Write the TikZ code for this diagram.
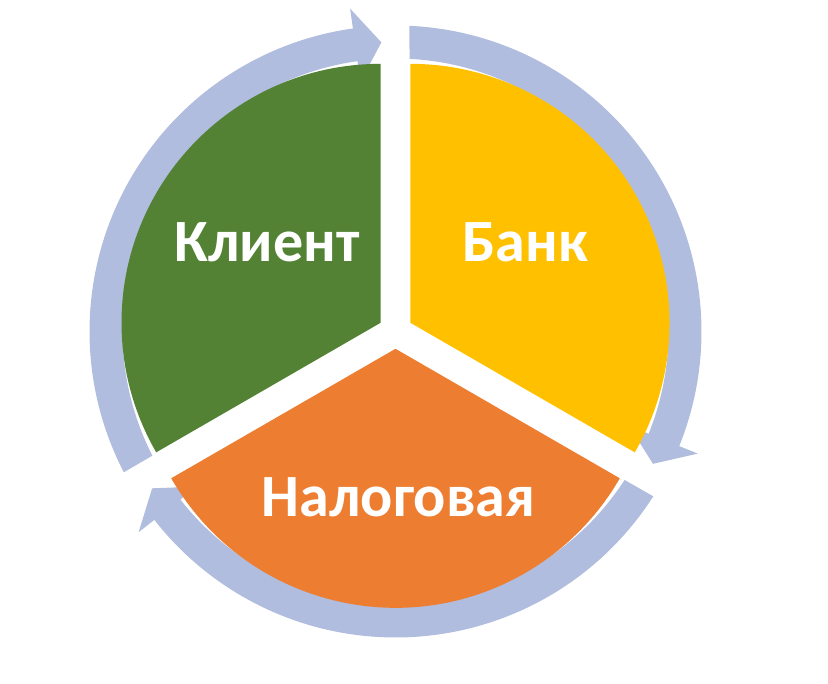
\documentclass[tikz,border=0pt]{standalone}
\usepackage{fontspec}
\setmainfont{Carlito}
\usetikzlibrary{calc}

\definecolor{klientgreen}{RGB}{84,130,53}
\definecolor{bankyellow}{RGB}{255,192,0}
\definecolor{nalogorange}{RGB}{237,125,49}
\definecolor{ringblue}{RGB}{176,189,222}

\begin{document}
\begin{tikzpicture}[x=1pt,y=1pt,
    ring/.style={fill=ringblue},
    sectortext/.style={text=white,anchor=base,inner sep=0pt,
      font=\bfseries\fontsize{60}{68}\selectfont}]
  \useasboundingbox (0,0) rectangle (828,684);

  \coordinate (c) at (395.5,352.5);

  % arrows round the circle
  \begin{scope}[shift={(c)}]
    \fill[ring] (207.4:306) arc[start angle=207.4, end angle=98, radius=306]
      -- (98:326) -- (92.8:289.5) -- (98:252) -- (98:273)
      arc[start angle=98, end angle=207.05, radius=273] -- cycle;
    \fill[ring] (87.4:306) arc[start angle=87.4, end angle=-22, radius=306]
      -- (-22:326) -- (-27.2:289.5) -- (-22:252) -- (-22:273)
      arc[start angle=-22, end angle=87.05, radius=273] -- cycle;
    \fill[ring] (-32.6:306) arc[start angle=-32.6, end angle=-142, radius=306]
      -- (-142:326) -- (-147.2:289.5) -- (-142:252) -- (-142:273)
      arc[start angle=-142, end angle=-32.95, radius=273] -- cycle;
  \end{scope}

  % sectors
  \fill[klientgreen] ($(c)+(150:17.3)$) -- ++(90:259)
    arc[start angle=90, end angle=210, radius=259] -- cycle;
  \fill[bankyellow] ($(c)+(30:17.3)$) -- ++(-30:259)
    arc[start angle=-30, end angle=90, radius=259] -- cycle;
  \fill[nalogorange] ($(c)+(270:17.3)$) -- ++(210:259)
    arc[start angle=210, end angle=330, radius=259] -- cycle;

  \node[sectortext] (klient) at (267,422) {Клиент};
  \node[sectortext] (bank) at (525,422) {Банк};
  \node[sectortext] (nalog) at (398.5,167) {Налоговая};
\end{tikzpicture}
\end{document}
